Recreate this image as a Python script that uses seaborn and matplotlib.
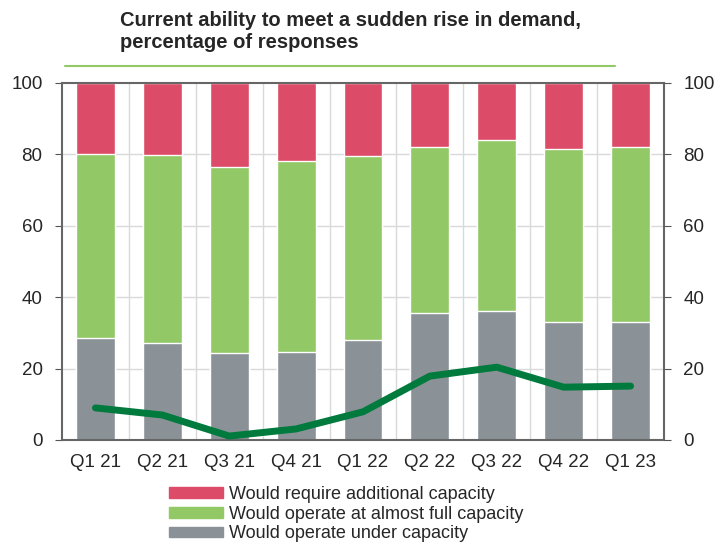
import numpy as np
import pandas as pd
import matplotlib
matplotlib.use("Agg")
import matplotlib.pyplot as plt
import seaborn as sns
from matplotlib.patches import Patch
from matplotlib.lines import Line2D

# veriler
quarters = ["Q1 21", "Q2 21", "Q3 21", "Q4 21", "Q1 22", "Q2 22", "Q3 22", "Q4 22", "Q1 23"]
under = [28.7, 27.1, 24.3, 24.7, 28.1, 35.7, 36.1, 33.0, 33.1]
almost_full = [51.4, 52.7, 52.2, 53.5, 51.5, 46.4, 47.9, 48.5, 49.0]
additional = [19.9, 20.2, 23.5, 21.8, 20.4, 17.9, 16.0, 18.5, 17.9]
balance = [9.0, 7.0, 1.1, 3.1, 7.9, 17.9, 20.4, 14.8, 15.1]

c_red = "#dc4b67"
c_green = "#92c865"
c_gray = "#8b9297"
c_line = "#007a3d"

df = pd.DataFrame({"quarter": quarters, "under": under,
                   "full": almost_full, "add": additional})
df["top_green"] = df["under"] + df["full"]
df["top_red"] = df["top_green"] + df["add"]

sns.set_style("white")
plt.rcParams["font.family"] = ["Liberation Sans", "DejaVu Sans"]

fig = plt.figure(figsize=(7.16, 5.47), dpi=100)
ax = fig.add_axes([62 / 716, 107 / 547, 602 / 716, 357 / 547])

for col, c in [("top_red", c_red), ("top_green", c_green), ("under", c_gray)]:
    sns.barplot(data=df, x="quarter", y=col, color=c, width=0.58,
                saturation=1, ax=ax, zorder=2)
sns.lineplot(x=np.arange(len(quarters)), y=balance, color=c_line,
             linewidth=5, ax=ax, zorder=3, solid_capstyle="round")

n = len(quarters)
ax.set_xlim(-0.5, n - 0.5)
ax.set_ylim(0, 100)
ax.set_yticks([0, 20, 40, 60, 80, 100])
ax.set_xlabel("")
ax.set_ylabel("")
for y in [20, 40, 60, 80]:
    ax.axhline(y, color="#d9d9d9", lw=1, zorder=1)
for x in np.arange(0.5, n - 0.5):
    ax.axvline(x, color="#d9d9d9", lw=1, zorder=1)
ax.set_xticks(np.arange(n))
ax.set_xticklabels(quarters)
ax.set_xticks(np.arange(-0.5, n), minor=True)
ax.tick_params(axis="x", which="major", length=0, pad=10, labelsize=13.5)
ax.tick_params(axis="x", which="minor", length=5, color="#555555", direction="out")
ax.tick_params(axis="y", length=5, color="#555555", direction="out", labelsize=13.5,
               left=True, pad=9)
for s in ax.spines.values():
    s.set_color("#666666")
    s.set_linewidth(1.5)

ax2 = ax.twinx()
ax2.set_ylim(0, 100)
ax2.set_yticks([0, 20, 40, 60, 80, 100])
ax2.tick_params(axis="y", length=5, color="#555555", direction="out", labelsize=13.5,
                right=True, pad=9)
for s in ax2.spines.values():
    s.set_visible(False)

fig.text(120 / 716, 1 - 11 / 547,
         "Current ability to meet a sudden rise in demand,\npercentage of responses",
         ha="left", va="top", fontsize=14.5, fontweight="bold", linespacing=1.2)
fig.add_artist(Line2D([65 / 716, 615 / 716], [1 - 66 / 547, 1 - 66 / 547],
                      color="#92c865", lw=1.5, transform=fig.transFigure))

handles = [Patch(color=c_red), Patch(color=c_green), Patch(color=c_gray)]
labels = ["Would require additional capacity",
          "Would operate at almost full capacity",
          "Would operate under capacity"]
fig.legend(handles, labels, loc="upper left", bbox_to_anchor=(169 / 716, 1 - 486 / 547),
           frameon=False, fontsize=13, handlelength=3.0, handleheight=0.55,
           labelspacing=0.15, handletextpad=0.35, borderaxespad=0, borderpad=0)

fig.savefig("out.png", dpi=100)
